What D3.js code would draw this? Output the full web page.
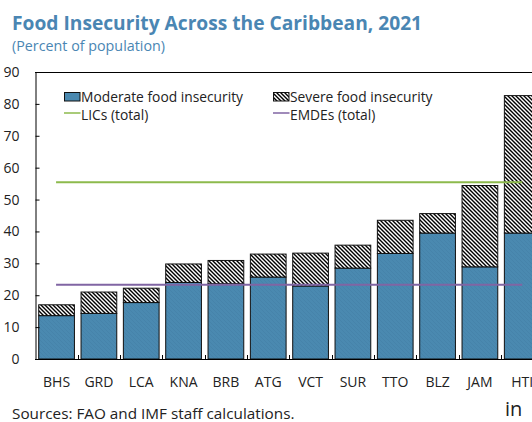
<!DOCTYPE html>
<html>
<head>
<meta charset="utf-8">
<script src="https://cdn.jsdelivr.net/npm/d3@7"></script>
<style>
  html, body { margin: 0; padding: 0; background: #fff; overflow: hidden; }
  svg { display: block; font-family: "Open Sans", "Noto Sans", sans-serif; }
</style>
</head>
<body>
<svg id="chart" width="532" height="422"></svg>
<script>
const categories = ["BHS","GRD","LCA","KNA","BRB","ATG","VCT","SUR","TTO","BLZ","JAM","HTI"];
const moderate   = [13.6, 14.3, 17.7, 24.0, 23.6, 25.7, 22.9, 28.5, 33.1, 39.5, 28.9, 39.5];
const total      = [17.0, 21.0, 22.2, 29.8, 30.9, 32.9, 33.2, 35.7, 43.5, 45.6, 54.4, 82.6];
const severe     = total.map((t, i) => +(t - moderate[i]).toFixed(1));
const licsTotal  = 55.4;
const emdesTotal = 23.3;
const yTicks     = [0,10,20,30,40,50,60,70,80,90];

const svg = d3.select("#chart");
const defs = svg.append("defs");

// severe hatch
const hp = defs.append("pattern").attr("id","hatch").attr("patternUnits","userSpaceOnUse")
  .attr("width",4).attr("height",4);
hp.append("rect").attr("width",4).attr("height",4).attr("fill","#fff");
hp.append("path").attr("d","M-1,-1 L5,5 M-1,3 L1,5 M3,-1 L5,1")
  .attr("stroke","#000").attr("stroke-width",1.4);
// moderate subtle pattern
const mp = defs.append("pattern").attr("id","blue").attr("patternUnits","userSpaceOnUse")
  .attr("width",4).attr("height",4);
mp.append("rect").attr("width",4).attr("height",4).attr("fill","#4a89b0");
mp.append("path").attr("d","M-1,-1 L5,5 M-1,3 L1,5 M3,-1 L5,1")
  .attr("stroke","#4581a8").attr("stroke-width",0.8);

const x = d3.scaleBand().domain(categories).range([35.4, 543.4])
  .paddingInner(0.156).paddingOuter(0.078);
const y = d3.scaleLinear().domain([0, 90]).range([359, 72]);

// title
svg.append("text").attr("x",12).attr("y",30).text("Food Insecurity Across the Caribbean, 2021")
  .attr("font-weight","bold").attr("font-size",19.2).attr("fill","#4a86b3");
svg.append("text").attr("x",12).attr("y",51).text("(Percent of population)")
  .attr("font-size",14.3).attr("fill","#4a86b3");

// bars
const g = svg.append("g");
categories.forEach((c, i) => {
  g.append("rect").attr("x", x(c)).attr("width", x.bandwidth())
    .attr("y", y(moderate[i])).attr("height", y(0) - y(moderate[i]))
    .attr("fill","url(#blue)").attr("stroke","#111").attr("stroke-width",1);
  g.append("rect").attr("x", x(c)).attr("width", x.bandwidth())
    .attr("y", y(total[i])).attr("height", y(moderate[i]) - y(total[i]))
    .attr("fill","url(#hatch)").attr("stroke","#111").attr("stroke-width",1);
});

// reference lines
const x0 = x(categories[0]) + x.bandwidth()/2 - 0.5;
const x1 = x(categories[categories.length-1]) + x.bandwidth()/2;
svg.append("line").attr("x1",x0).attr("x2",x1).attr("y1",y(licsTotal)).attr("y2",y(licsTotal))
  .attr("stroke","#8dba4c").attr("stroke-width",2);
svg.append("line").attr("x1",x0).attr("x2",x1).attr("y1",y(emdesTotal)).attr("y2",y(emdesTotal))
  .attr("stroke","#8065a3").attr("stroke-width",2);

// axes
const yAxis = d3.axisLeft(y).tickValues(yTicks).tickSize(-4).tickPadding(16);
const ya = svg.append("g").attr("transform","translate(35.5,0)").call(yAxis);
ya.select(".domain").attr("stroke","#000");
ya.selectAll(".tick line").attr("stroke","#000");
ya.selectAll(".tick text").attr("font-size",14).attr("fill","#222")
  .attr("font-family","'Open Sans', sans-serif");

// top border
svg.append("line").attr("x1",35).attr("x2",532).attr("y1",72.5).attr("y2",72.5).attr("stroke","#000");

const xAxis = d3.axisBottom(x).tickSize(0).tickPadding(18);
const xa = svg.append("g").attr("transform","translate(0,359.5)").call(xAxis);
xa.select(".domain").remove();
xa.selectAll(".tick text").attr("font-size",14).attr("fill","#222")
  .attr("font-family","'Open Sans', sans-serif");
svg.append("line").attr("x1",35).attr("x2",532).attr("y1",359.5).attr("y2",359.5).attr("stroke","#000");
// x boundary ticks
const step = x.step();
categories.slice(1).forEach(c => {
  const bx = Math.round(x(c) - step * x.paddingInner() / 2) + 0.5;
  svg.append("line").attr("x1",bx).attr("x2",bx).attr("y1",359).attr("y2",355).attr("stroke","#000");
});

// legend
const lg = svg.append("g").attr("font-size",13.8).attr("fill","#222");
lg.append("rect").attr("x",64.5).attr("y",92.5).attr("width",15.5).attr("height",8.5)
  .attr("fill","#4a89b0").attr("stroke","#111");
lg.append("text").attr("x",81).attr("y",101.5).text("Moderate food insecurity").attr("fill","#222");
lg.append("rect").attr("x",273.5).attr("y",92.5).attr("width",15.5).attr("height",8.5)
  .attr("fill","url(#hatch)").attr("stroke","#111");
lg.append("text").attr("x",290).attr("y",101.5).text("Severe food insecurity").attr("fill","#222");
lg.append("line").attr("x1",64).attr("x2",80.5).attr("y1",113).attr("y2",113)
  .attr("stroke","#8dba4c").attr("stroke-width",1.5);
lg.append("text").attr("x",81).attr("y",119.5).text("LICs (total)").attr("fill","#222");
lg.append("line").attr("x1",273).attr("x2",289.5).attr("y1",113).attr("y2",113)
  .attr("stroke","#8065a3").attr("stroke-width",1.5);
lg.append("text").attr("x",290).attr("y",119.5).text("EMDEs (total)").attr("fill","#222");

// source
svg.append("text").attr("x",12).attr("y",419).text("Sources: FAO and IMF staff calculations.")
  .attr("font-size",15.3).attr("fill","#222");
svg.append("text").attr("x",505).attr("y",416).text("in")
  .attr("font-size",20).attr("fill","#222");
</script>
</body>
</html>
